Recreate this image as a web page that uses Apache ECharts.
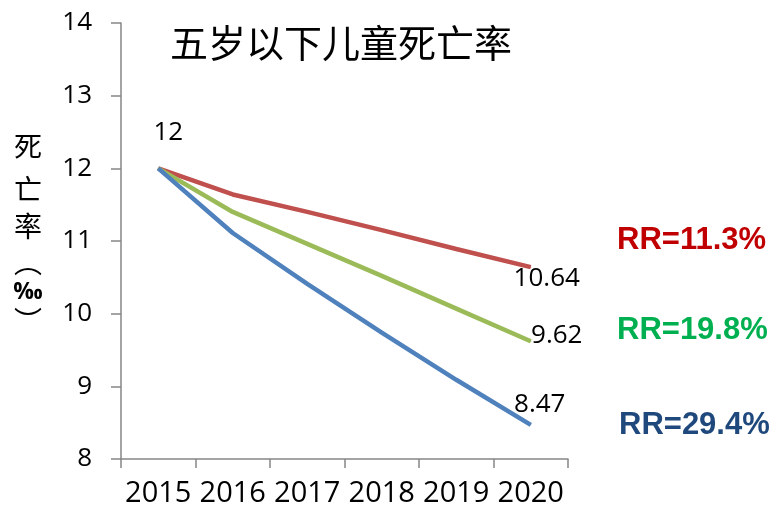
<!DOCTYPE html>
<html>
<head>
	<meta charset="utf-8">
	<title>五岁以下儿童死亡率</title>
	<script src="https://cdn.jsdelivr.net/npm/echarts@6/dist/echarts.min.js"></script>
	<style>
		html, body { margin: 0; padding: 0; background: #fff; }
		#main { width: 775px; height: 512px; }
	</style>
</head>
<body>
	<div id="main"></div>
	<script type="text/javascript">
		// 数据
		var years = ['2015', '2016', '2017', '2018', '2019', '2020'];
		var redVals = [12, 11.64, 11.40, 11.15, 10.89, 10.64];
		var greenVals = [12, 11.40, 10.96, 10.52, 10.07, 9.62];
		var blueVals = [12, 11.11, 10.41, 9.74, 9.09, 8.47];
		var rrTexts = ['RR=11.3%', 'RR=19.8%', 'RR=29.4%'];
		var titleText = '五岁以下儿童死亡率';
		var yName = ['死', '亡', '率', '︵', '‰', '︶'];

		var numFont = '"Open Sans", "Noto Sans", sans-serif';
		var cjkFont = '"Noto Sans CJK SC", sans-serif';
		var rrFont = 'bold 31px "Liberation Sans", Arial, sans-serif';

		// 给指定点加数值标签
		function withLabels(vals, labelIdx, offsets) {
			return vals.map(function (v, i) {
				var k = labelIdx.indexOf(i);
				if (k < 0) return v;
				return {
					value: v,
					label: {
						show: true,
						position: 'inside',
						offset: offsets[k],
						formatter: String(v),
						fontFamily: numFont,
						fontSize: 26,
						color: '#000'
					}
				};
			});
		}

		function lineSeries(name, vals, color, labelIdx, offsets) {
			return {
				name: name,
				type: 'line',
				data: withLabels(vals, labelIdx, offsets),
				symbol: 'circle',
				symbolSize: 1,
				itemStyle: { color: color },
				lineStyle: { color: color, width: 4.5 },
				label: { show: false },
				emphasis: { disabled: true }
			};
		}

		function vText(ch, y, font) {
			return {
				type: 'text', x: 28, y: y,
				style: { text: ch, font: font, fill: '#000', textAlign: 'center', textVerticalAlign: 'middle' }
			};
		}

		var myChart = echarts.init(document.getElementById('main'));
		myChart.setOption({
			animation: false,
			grid: { left: 121, right: 207, top: 23, bottom: 53 },
			xAxis: {
				type: 'category',
				data: years,
				boundaryGap: true,
				axisLine: { lineStyle: { color: '#868686', width: 1.5 } },
				axisTick: { show: true, length: 9, lineStyle: { color: '#868686', width: 1.5 } },
				axisLabel: { interval: 0, fontFamily: numFont, fontSize: 29, color: '#000', margin: 20 },
				splitLine: { show: false }
			},
			yAxis: {
				type: 'value',
				min: 8,
				max: 14,
				interval: 1,
				axisLine: { show: true, lineStyle: { color: '#868686', width: 1.5 } },
				axisTick: { show: true, length: 10, lineStyle: { color: '#868686', width: 1.5 } },
				axisLabel: { fontFamily: numFont, fontSize: 26, color: '#000', margin: 29 },
				splitLine: { show: false }
			},
			graphic: [
				{
					type: 'text', x: 341, y: 43,
					style: { text: titleText, font: '38px ' + cjkFont, fill: '#000', textAlign: 'center', textVerticalAlign: 'middle' }
				},
				vText(yName[0], 146, '28px ' + cjkFont),
				vText(yName[1], 189, '28px ' + cjkFont),
				vText(yName[2], 226, '28px ' + cjkFont),
				vText(yName[3], 262, '28px ' + cjkFont),
				vText(yName[4], 292, 'bold 23px ' + numFont),
				vText(yName[5], 321, '28px ' + cjkFont),
				{
					type: 'text', x: 617, y: 240,
					style: { text: rrTexts[0], font: rrFont, fill: '#C00000', textVerticalAlign: 'middle' }
				},
				{
					type: 'text', x: 617, y: 330,
					style: { text: rrTexts[1], font: rrFont, fill: '#00B050', textVerticalAlign: 'middle' }
				},
				{
					type: 'text', x: 619, y: 425,
					style: { text: rrTexts[2], font: rrFont, fill: '#1F497D', textVerticalAlign: 'middle' }
				}
			],
			series: [
				lineSeries('red', redVals, '#C0504D', [5], [[16, 11]]),
				lineSeries('green', greenVals, '#9BBB59', [5], [[26, -6]]),
				lineSeries('blue', blueVals, '#4F81BD', [0, 5], [[10, -36], [9, -20]])
			]
		});
	</script>
</body>
</html>
